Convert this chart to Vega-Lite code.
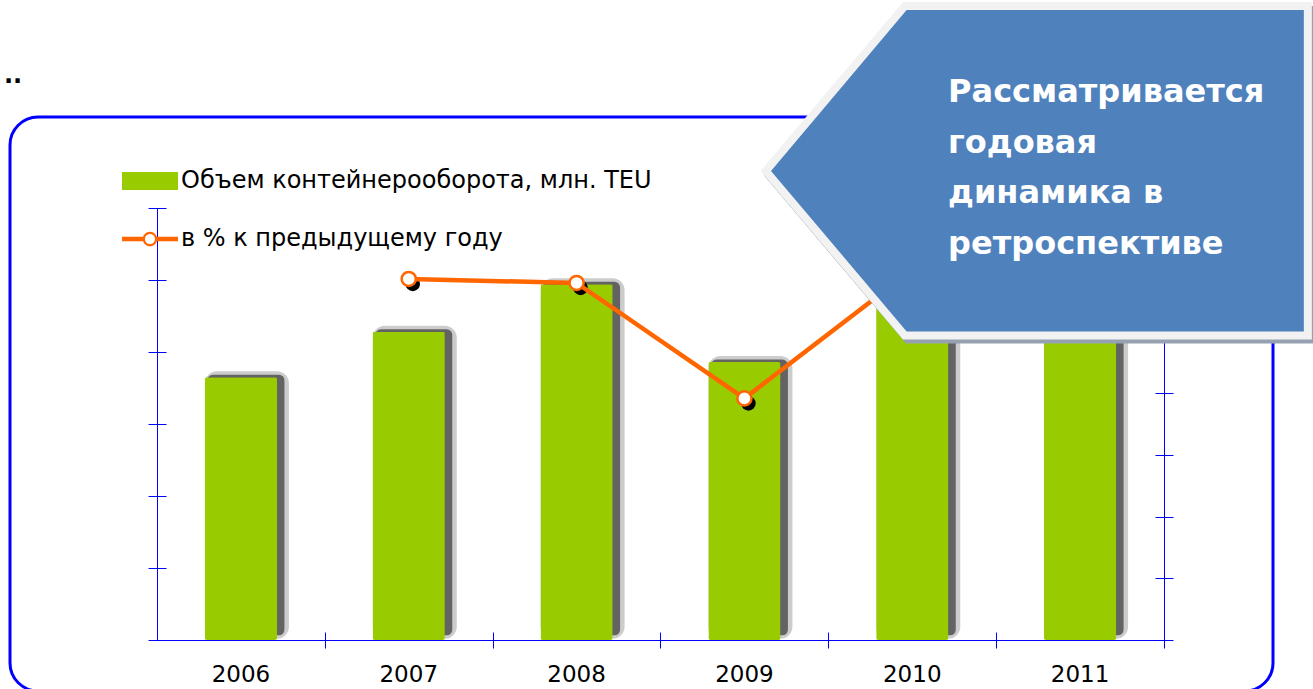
{
  "$schema": "https://vega.github.io/schema/vega-lite/v6.json",
  "width": 1263,
  "height": 574,
  "autosize": "none",
  "padding": {"left": 10, "top": 117, "right": 40, "bottom": 0},
  "background": "#FFFFFF",
  "view": {"stroke": "#0000FF", "strokeWidth": 3, "cornerRadius": 28},
  "title": {"text": "..", "anchor": "start", "frame": "group", "fontSize": 24, "fontWeight": "bold", "color": "#000000", "offset": 32, "dx": -6, "dy": 130},
  "config": {
    "font": "DejaVu Sans",
    "axis": {"grid": false, "domainColor": "#0000FF", "tickColor": "#0000FF", "domainWidth": 1, "tickWidth": 1, "zindex": 1}
  },
  "data": {"values": [
    {"year": "2006", "teu": 3.65, "pct": null},
    {"year": "2007", "teu": 4.28, "pct": 117},
    {"year": "2008", "teu": 4.94, "pct": 115.7},
    {"year": "2009", "teu": 3.86, "pct": 78.3},
    {"year": "2010", "teu": 4.64, "pct": 120},
    {"year": "2011", "teu": 5.3, "pct": 114}
  ]},
  "layer": [
    {
      "layer": [
        {
          "mark": {"type": "bar", "color": "#5a5a5a", "stroke": "#5a5a5a", "strokeWidth": 12, "opacity": 0.3, "width": 72, "xOffset": 6, "cornerRadius": 6},
          "encoding": {
            "x": {"field": "year", "type": "nominal", "scale": {"range": [147, 1154], "paddingInner": 0.57, "paddingOuter": 0.285},
                  "axis": {"orient": "bottom", "offset": -51, "ticks": false, "domain": true, "labelFontSize": 23, "labelColor": "#000000", "labelPadding": 23, "labelAngle": 0, "title": null}},
            "y": {"field": "teu", "type": "quantitative", "scale": {"domain": [0, 6], "range": [523, 91]},
                  "axis": {"orient": "left", "offset": -147, "ticks": false, "labels": false, "domain": true, "title": null}},
            "y2": {"datum": 0.1}
          }
        },
        {
          "mark": {"type": "bar", "color": "#404040", "stroke": "#404040", "strokeWidth": 5, "opacity": 0.75, "width": 72, "xOffset": 5, "cornerRadius": 3},
          "encoding": {
            "x": {"field": "year", "type": "nominal", "axis": null},
            "y": {"field": "teu", "type": "quantitative", "axis": null},
            "y2": {"datum": 0.1}
          }
        },
        {
          "mark": {"type": "bar", "cornerRadius": 2},
          "encoding": {
            "x": {"field": "year", "type": "nominal",
                  "axis": {"orient": "bottom", "offset": -59, "tickSize": 16, "tickOffset": 83.9, "domain": false, "labels": false, "title": null}},
            "y": {"field": "teu", "type": "quantitative",
                  "axis": {"orient": "left", "offset": -156, "tickSize": 18, "values": [0, 1, 2, 3, 4, 5, 6], "domain": false, "labels": false, "title": null}},
            "color": {"datum": "Объем контейнерооборота, млн. TEU", "type": "nominal",
              "scale": {"domain": ["Объем контейнерооборота, млн. TEU", "в % к предыдущему году"], "range": ["#99CC00", "#FF6600"]},
              "legend": {"orient": "none", "legendX": 112, "legendY": 36, "title": null, "direction": "vertical", "padding": 0, "rowPadding": 18, "labelOffset": 3,
                "labelFontSize": 24, "labelFont": "DejaVu Sans", "labelColor": "#000000", "labelLimit": 1000, "symbolSize": 3136, "symbolStrokeWidth": 0,
                "encode": {"symbols": {"update": {
                  "shape": {"signal": "datum.value === 'в % к предыдущему году' ? 'M-1,-0.08L-0.23,-0.08L-0.23,0.08L-1,0.08ZM0.23,-0.08L1,-0.08L1,0.08L0.23,0.08ZM0.26,0A0.26,0.26,0,1,1,-0.26,0A0.26,0.26,0,1,1,0.26,0ZM0.18,0A0.18,0.18,0,1,0,-0.18,0A0.18,0.18,0,1,0,0.18,0Z' : 'M-1,-0.32L1,-0.32L1,0.32L-1,0.32Z'"},
                  "strokeWidth": {"value": 0},
                  "opacity": {"value": 1},
                  "size": {"value": 3136}
                }}}
              }
            }
          }
        }
      ],
      "resolve": {"axis": {"x": "independent", "y": "independent"}}
    },
    {
      "layer": [
        {
          "mark": {"type": "circle", "color": "#000000", "size": 210, "opacity": 1, "xOffset": 4, "yOffset": 5},
          "encoding": {
            "x": {"field": "year", "type": "nominal", "axis": null},
            "y": {"field": "pct", "type": "quantitative", "scale": {"domain": [0, 140], "range": [523, 91]},
                  "axis": {"orient": "right", "offset": -109, "ticks": false, "labels": false, "domain": true, "title": null}}
          }
        },
        {
          "mark": {"type": "line", "strokeWidth": 4.5, "strokeCap": "round", "strokeJoin": "round"},
          "encoding": {
            "x": {"field": "year", "type": "nominal", "axis": null},
            "y": {"field": "pct", "type": "quantitative",
                  "axis": {"orient": "right", "offset": -118, "tickSize": 18, "values": [0, 20, 40, 60, 80, 100, 120, 140], "domain": false, "labels": false, "title": null}},
            "color": {"datum": "в % к предыдущему году", "type": "nominal"}
          }
        },
        {
          "mark": {"type": "point", "filled": true, "fill": "#FFFFFF", "stroke": "#FF6600", "strokeWidth": 2.5, "size": 200, "opacity": 1},
          "encoding": {
            "x": {"field": "year", "type": "nominal", "axis": null},
            "y": {"field": "pct", "type": "quantitative", "axis": null}
          }
        },
        {
          "data": {"values": [{"note": "Рассматривается\nгодовая\nдинамика в\nретроспективе"}]},
          "layer": [
            {
              "mark": {"type": "point", "filled": true, "shape": "M-1.7525,-1.619L2.2775,-1.619L2.2775,1.676L-1.7525,1.676L-3.1425,0.031Z", "size": 40000, "fill": "#95A1B1", "stroke": "#95A1B1", "strokeWidth": 8, "opacity": 1, "xOffset": 3, "yOffset": 4},
              "encoding": {
                "x": {"datum": "2011", "type": "nominal", "axis": null},
                "y": {"datum": 153, "type": "quantitative", "axis": null}
              }
            },
            {
              "mark": {"type": "point", "filled": true, "shape": "M-1.7525,-1.619L2.2775,-1.619L2.2775,1.676L-1.7525,1.676L-3.1425,0.031Z", "size": 40000, "fill": "#4F81BD", "stroke": "#F2F2F2", "strokeWidth": 8, "strokeJoin": "miter", "opacity": 1},
              "encoding": {
                "x": {"datum": "2011", "type": "nominal", "axis": null},
                "y": {"datum": 153, "type": "quantitative", "axis": null}
              }
            },
            {
              "mark": {"type": "text", "lineBreak": "\n", "lineHeight": 50.7, "align": "left", "baseline": "middle", "dx": -132, "fontSize": 32, "fontWeight": "bold", "color": "#FFFFFF"},
              "encoding": {
                "x": {"datum": "2011", "type": "nominal", "axis": null},
                "y": {"datum": 177.6, "type": "quantitative", "axis": null},
                "text": {"field": "note"}
              }
            }
          ]
        }
      ],
      "resolve": {"axis": {"x": "independent", "y": "independent"}}
    }
  ],
  "resolve": {"scale": {"y": "independent"}, "axis": {"x": "independent", "y": "independent"}}
}
